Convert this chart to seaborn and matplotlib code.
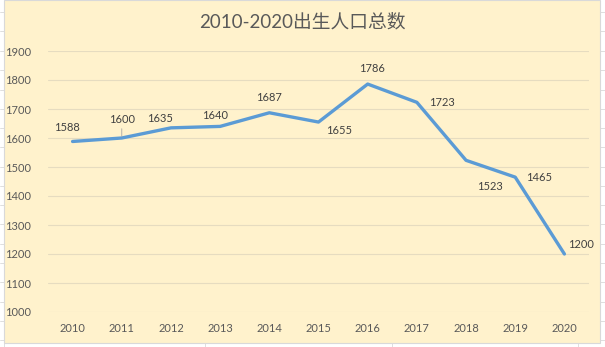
import matplotlib
matplotlib.use("Agg")
import matplotlib.pyplot as plt
from matplotlib.patches import Rectangle
from matplotlib.lines import Line2D
import seaborn as sns
import pandas as pd

years = ["2010", "2011", "2012", "2013", "2014", "2015", "2016", "2017", "2018", "2019", "2020"]
births = [1588, 1600, 1635, 1640, 1687, 1655, 1786, 1723, 1523, 1465, 1200]
y_ticks = [1000, 1100, 1200, 1300, 1400, 1500, 1600, 1700, 1800, 1900]
title = "2010-2020出生人口总数"

# label offsets (points) relative to each marker
label_offsets = [(-4, 10), (0, 13), (-8, 7), (-4, 8), (0, 11), (15, -6),
                 (3, 11), (18, 0), (17, -19), (17, 0), (12, 7)]

sns.set_theme(style="white")
plt.rcParams["font.family"] = ["Lato", "Noto Sans CJK SC", "DejaVu Sans"]

df = pd.DataFrame({"year": years, "births": births})

fig = plt.figure(figsize=(6.05, 3.47), dpi=100)
fig.patch.set_facecolor("white")

# faint sheet gridlines around the chart panel
for yy in [12, 31, 51, 70, 90, 109, 128, 147, 167, 186, 205, 224, 244, 263, 282, 302, 321, 340]:
    fig.add_artist(Line2D([0, 4 / 605], [1 - yy / 347] * 2, color="#d9d9d9", lw=0.6, zorder=-20))
    fig.add_artist(Line2D([600 / 605, 1], [1 - yy / 347] * 2, color="#d9d9d9", lw=0.6, zorder=-20))
for xx in [4, 205, 392, 578]:
    fig.add_artist(Line2D([xx / 605] * 2, [0, 4 / 347], color="#d9d9d9", lw=0.6, zorder=-20))

panel = Rectangle((4 / 605, 4 / 347), 596 / 605, 343 / 347, transform=fig.transFigure,
                  facecolor="#fff2cc", edgecolor="#d9d9d9", lw=0.8, zorder=-10)
fig.add_artist(panel)

ax = fig.add_axes([48 / 605, 1 - 312 / 347, 541 / 605, 261 / 347])
ax.set_facecolor("none")
ax.set_zorder(5)

sns.lineplot(data=df, x="year", y="births", ax=ax, color="#5b9bd5", lw=2.4,
             sort=False, legend=False)

ax.set_xlim(-0.5, len(years) - 0.5)
ax.set_ylim(1000, 1900)
ax.set_yticks(y_ticks)
ax.yaxis.grid(True, color="#e6dcc0", lw=0.8)
ax.set_axisbelow(True)
for s in ax.spines.values():
    s.set_visible(False)
ax.tick_params(axis="both", length=0, labelsize=8, labelcolor="#595959")
ax.tick_params(axis="y", pad=12)
ax.tick_params(axis="x", pad=8)
ax.set_xlabel("")
ax.set_ylabel("")

for i, (v, off) in enumerate(zip(births, label_offsets)):
    kw = {}
    if i == 1:
        kw["arrowprops"] = dict(arrowstyle="-", color="#a6a6a6", lw=0.6, shrinkA=0, shrinkB=1)
    ax.annotate(str(v), xy=(i, v), xytext=off, textcoords="offset points",
                ha="center", va="center", fontsize=8, color="#404040", **kw)

fig.text(0.5, 1 - 22 / 347, title, ha="center", va="center", fontsize=13.5, color="#595959",
         zorder=6)

fig.savefig("out.png", dpi=100, facecolor=fig.get_facecolor())
